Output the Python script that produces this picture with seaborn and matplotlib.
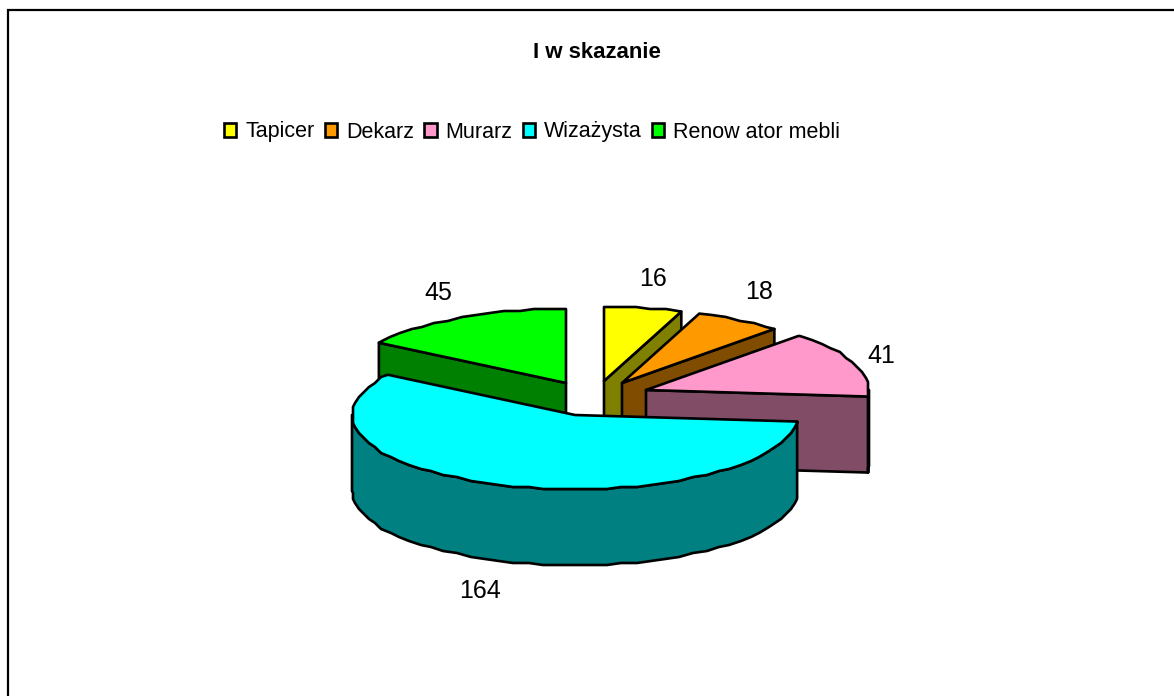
import numpy as np
import matplotlib
matplotlib.use("Agg")
import matplotlib.pyplot as plt
from matplotlib.patches import Polygon, Patch
import seaborn as sns

categories = ["Tapicer", "Dekarz", "Murarz", "Wizażysta", "Renow ator mebli"]
values = [16, 18, 41, 164, 45]
title = "I w skazanie"

top_colors = ["#FFFF00", "#FF9900", "#FF99CC", "#00FFFF", "#00FF00"]
side_colors = ["#808000", "#804C00", "#804C66", "#008080", "#008000"]

# layout (pixels of the figure)
apex_x = [604, 622, 646, 575, 566]
apex_y = [381, 383, 390, 415, 383]
label_x = [653, 759, 881, 480, 438]
label_y = [279, 292, 356, 591, 293]
RX, RY, DEPTH = 223, 74, 76
draw_order = [4, 0, 1, 2, 3]

sns.set_theme(style="white")
plt.rcParams["font.family"] = ["Liberation Sans", "DejaVu Sans"]

fig = plt.figure(figsize=(11.74, 6.96), dpi=100)
ax = fig.add_axes([0, 0, 1, 1])
ax.set_xlim(0, 1174)
ax.set_ylim(696, 0)
ax.axis("off")

LW = 1.9
GRID = np.arange(0, 361, 4.0)


def rim(cx, cy, a0, a1):
    inner = GRID[(GRID > a0 + 0.5) & (GRID < a1 - 0.5)]
    ang = np.concatenate([[a0], inner, [a1]])
    t = np.radians(ang)
    pts = np.column_stack([RX * np.sin(t), -RY * np.cos(t)])
    pts[1:-1] = np.round(pts[1:-1] / 2) * 2
    return pts + [cx, cy]


def face(pts, color, z):
    ax.add_patch(Polygon(pts, closed=True, facecolor=color, edgecolor="black",
                         linewidth=LW, joinstyle="round", zorder=z))


edges = np.concatenate([[0], np.cumsum(values)]) / np.sum(values) * 360.0
for z, i in enumerate(draw_order):
    a0, a1 = edges[i], edges[i + 1]
    cx, cy = apex_x[i], apex_y[i]
    down = np.array([0, DEPTH])
    apex = np.array([cx, cy])
    base = 2 + z * 5
    # radial walls that face the viewer
    for ang, visible in ((a0, np.sin(np.radians(a0)) < -1e-6),
                         (a1, np.sin(np.radians(a1)) > 1e-6)):
        if visible:
            p = rim(cx, cy, ang, ang)[0]
            face([apex, p, p + down, apex + down], side_colors[i], base)
    # outer wall (front half only)
    lo, hi = max(a0, 90), min(a1, 270)
    if hi > lo:
        arc = rim(cx, cy, lo, hi)
        face(np.vstack([arc, arc[::-1] + down]), side_colors[i], base + 1)
    # top surface
    face(np.vstack([[apex], rim(cx, cy, a0, a1)]), top_colors[i], base + 2)

for x, y, v in zip(label_x, label_y, values):
    ax.text(x, y, str(v), ha="center", va="center", fontsize=18, color="black", zorder=50)

ax.text(597, 52, title, ha="center", va="center", fontsize=16, fontweight="bold", color="black")

handles = [Patch(facecolor=c, edgecolor="black", linewidth=LW) for c in top_colors]
ax.legend(handles, categories, ncol=5, frameon=False, loc="center left",
          bbox_to_anchor=(224, 132), bbox_transform=ax.transData,
          fontsize=15.5, handlelength=0.58, handleheight=0.58, handletextpad=0.42,
          columnspacing=0.46, borderpad=0, borderaxespad=0, labelcolor="black")

# chart frame: left and top only reach the picture border
ax.plot([8, 8, 1174], [696, 10, 10], color="black", lw=1.6, solid_joinstyle="miter", clip_on=False)

fig.savefig("out.png", dpi=100, facecolor="white")
